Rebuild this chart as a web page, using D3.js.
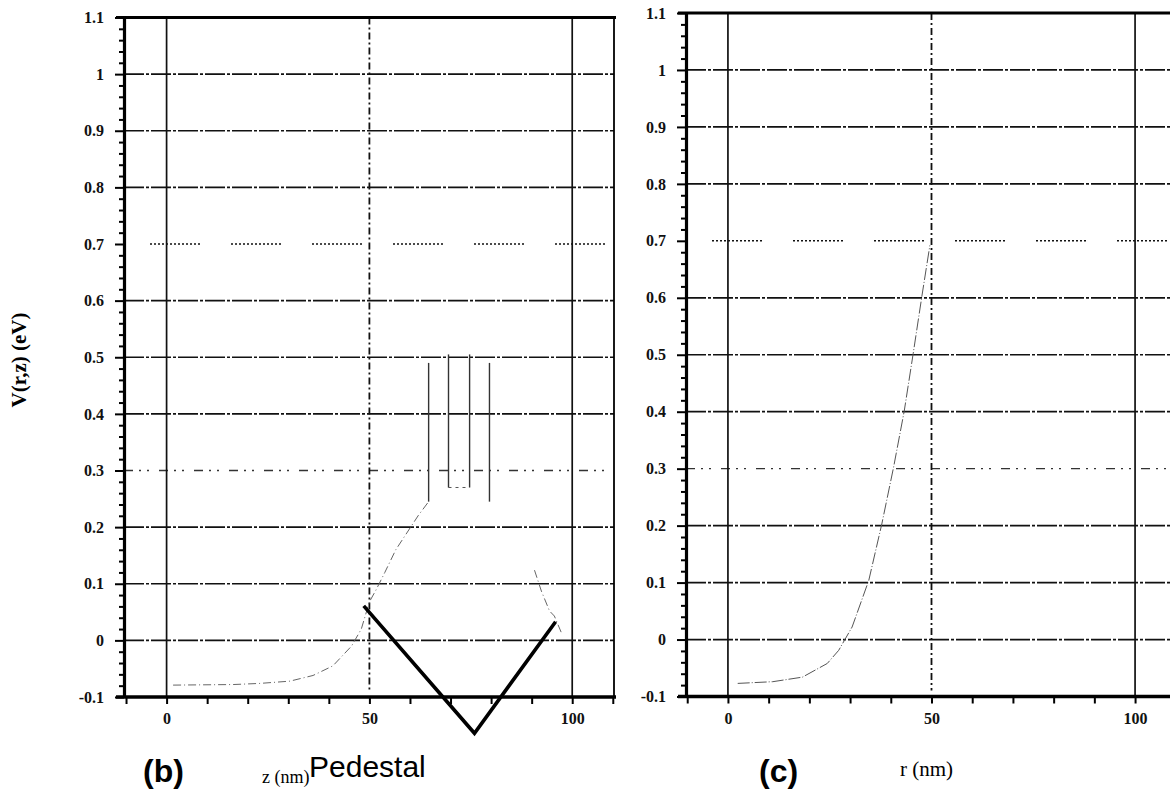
<!DOCTYPE html>
<html>
<head>
<meta charset="utf-8">
<script src="https://cdn.jsdelivr.net/npm/d3@7"></script>
<style>
  body { margin: 0; background: #fff; }
  svg { display: block; }
</style>
</head>
<body>
<svg width="1170" height="791"></svg>
<script>
// valeurs
const yTickValues = [-0.1, 0, 0.1, 0.2, 0.3, 0.4, 0.5, 0.6, 0.7, 0.8, 0.9, 1, 1.1];
const yTickLabels = ["-0.1", "0", "0.1", "0.2", "0.3", "0.4", "0.5", "0.6", "0.7", "0.8", "0.9", "1", "1.1"];
const gridValues = [0, 0.1, 0.2, 0.3, 0.4, 0.5, 0.6, 0.7, 0.8, 0.9, 1];
const xTickValues = [-10, 0, 10, 20, 30, 40, 50, 60, 70, 80, 90, 100, 110];
const xLabelValues = [0, 50, 100];
const xLabelTexts = ["0", "50", "100"];

// (b) V(z) le long de l'axe
const bCurveZ = [1.6, 16.4, 23, 30.4, 36.1, 41, 45.6, 48, 50, 51.7, 53.8, 56.5, 62, 64.6];
const bCurveV = [-0.079, -0.078, -0.076, -0.072, -0.062, -0.045, -0.01, 0.02, 0.068, 0.09, 0.12, 0.16, 0.22, 0.245];
const bSpikeZ = [64.6, 69.5, 74.7, 79.6];
const bSpikeTop = [0.49, 0.505, 0.505, 0.49];
const bSpikeBottom = [0.245, 0.27, 0.27, 0.245];
const bWellZ = [69.5, 74.7];
const bWellV = [0.27, 0.27];
const bRightZ = [90.7, 92.4, 94.4, 95.6, 97.3];
const bRightV = [0.124, 0.087, 0.052, 0.043, 0.014];
const pedestalZ = [48.6, 75.9, 95.9];
const pedestalV = [0.061, -0.164, 0.033];

// (c) V(r)
const cCurveR = [2.4, 11, 18.3, 24.4, 27.2, 30.5, 34.6, 37.8, 40.7, 43.3, 45.5, 47.6, 49.6];
const cCurveV = [-0.077, -0.074, -0.066, -0.042, -0.019, 0.022, 0.104, 0.203, 0.303, 0.401, 0.502, 0.601, 0.692];

const svg = d3.select("svg");
svg.append("rect").attr("width", 1170).attr("height", 791).attr("fill", "#fff");

const serif = "'Liberation Serif', 'DejaVu Serif', serif";
const sans = "'Liberation Sans', Arial, sans-serif";

// motif pointillé de la ligne 0.7
const dotted = d3.range(12).map(() => "2,2").join(",") + ",2,31";

function gridStyle(v) {
    if (Math.abs(v - 0.7) < 1e-6) return {dash: dotted, w: 1.5, c: "#111", off: 55};
    if (Math.abs(v - 0.3) < 1e-6) return {dash: "9,6,2,6,2,10", w: 1.3, c: "#333", off: 0};
    return {dash: "20,2,3,2", w: 1.7, c: "#111", off: 0};
}

function drawPanel(p) {
    const x = d3.scaleLinear().domain(p.xDomain).range(p.xRange);
    const y = d3.scaleLinear().domain([-0.1, 1.1]).range(p.yRange);
    const g = svg.append("g");
    const x0 = p.xRange[0], x1 = p.xRange[1];
    const yTop = y(1.1), yBot = y(-0.1);

    // grilles horizontales
    gridValues.forEach(v => {
        const s = gridStyle(v);
        g.append("line")
            .attr("x1", x0).attr("x2", x1)
            .attr("y1", y(v)).attr("y2", y(v))
            .attr("stroke", s.c).attr("stroke-width", s.w)
            .attr("stroke-dasharray", s.dash)
            .attr("stroke-dashoffset", s.off);
    });

    // grilles verticales
    [0, 50, 100].forEach(v => {
        g.append("line")
            .attr("x1", x(v)).attr("x2", x(v))
            .attr("y1", yTop).attr("y2", v === 50 ? yBot - 6 : yBot)
            .attr("stroke", "#111")
            .attr("stroke-width", v === 50 ? 1.8 : 1.7)
            .attr("stroke-dasharray", v === 50 ? "7,3,2,3" : null);
    });

    // cadre
    g.append("line").attr("x1", x0 - 8).attr("x2", x1 + 2)
        .attr("y1", yTop).attr("y2", yTop)
        .attr("stroke", "#000").attr("stroke-width", 3.2);
    if (p.rightBorder) {
        g.append("line").attr("x1", x1).attr("x2", x1)
            .attr("y1", yTop).attr("y2", yBot)
            .attr("stroke", "#000").attr("stroke-width", 1.8);
    }

    // axe Y
    const yMinor = d3.range(-0.1, 1.1001, 0.02).filter(v => !yTickValues.some(t => Math.abs(t - v) < 1e-6));
    g.append("g")
        .attr("transform", `translate(${x0},0)`)
        .call(d3.axisLeft(y).tickValues(yMinor).tickSize(5).tickFormat(""))
        .call(a => a.select(".domain").remove())
        .call(a => a.selectAll("line").attr("stroke", "#000").attr("stroke-width", 2));
    g.append("g")
        .attr("transform", `translate(${x0},0)`)
        .call(d3.axisLeft(y).tickValues(yTickValues).tickSize(9).tickSizeOuter(0).tickPadding(11)
            .tickFormat((d, i) => yTickLabels[i]))
        .call(a => a.select(".domain").attr("stroke", "#000").attr("stroke-width", 3.2))
        .call(a => a.selectAll("line").attr("stroke", "#000").attr("stroke-width", 2))
        .call(a => a.selectAll("text").attr("font-family", serif).attr("font-weight", "bold")
            .attr("font-size", 16).attr("fill", "#111"));

    // axe X
    g.append("g")
        .attr("transform", `translate(0,${yBot})`)
        .call(d3.axisBottom(x).tickValues(xTickValues).tickSize(7).tickSizeOuter(0).tickPadding(9)
            .tickFormat(d => {
                const i = xLabelValues.indexOf(d);
                return i >= 0 ? xLabelTexts[i] : "";
            }))
        .call(a => a.select(".domain").attr("stroke", "#000").attr("stroke-width", 3.4)
            .attr("d", `M${x0 - 8},0H${x1 + 2}`))
        .call(a => a.selectAll("line").attr("stroke", "#000").attr("stroke-width", 2))
        .call(a => a.selectAll("text").attr("font-family", serif).attr("font-weight", "bold")
            .attr("font-size", 16).attr("fill", "#111"));

    return {x, y, g};
}

const pb = drawPanel({xDomain: [-10.5, 110.3], xRange: [124, 614], yRange: [697, 17.5], rightBorder: true});
const pc = drawPanel({xDomain: [-10.3, 110.3], xRange: [686, 1177], yRange: [696.5, 13], rightBorder: false});

// courbes
function curve(panel, xs, vs, style) {
    const line = d3.line().x(d => panel.x(d[0])).y(d => panel.y(d[1]));
    panel.g.append("path")
        .datum(xs.map((v, i) => [v, vs[i]]))
        .attr("d", line)
        .attr("fill", "none")
        .attr("stroke", style.c)
        .attr("stroke-width", style.w)
        .attr("stroke-dasharray", style.dash);
}

const faint = {c: "#666", w: 1, dash: "8,3,1,3"};
curve(pb, bCurveZ, bCurveV, faint);
curve(pb, bRightZ, bRightV, faint);
curve(pb, bWellZ, bWellV, {c: "#555", w: 1, dash: "3,4"});
bSpikeZ.forEach((z, i) => {
    curve(pb, [z, z], [bSpikeBottom[i], bSpikeTop[i]], {c: "#333", w: 1.4, dash: null});
});
curve(pc, cCurveR, cCurveV, {c: "#555", w: 1, dash: "12,2,1,2"});

// piédestal
curve(pb, pedestalZ, pedestalV, {c: "#000", w: 3.6, dash: null});

// titre axe Y
svg.append("text")
    .attr("transform", "translate(26,360) rotate(-90)")
    .attr("text-anchor", "middle")
    .attr("font-family", serif).attr("font-weight", "bold").attr("font-size", 21)
    .text("V(r,z) (eV)");

// étiquettes du bas
svg.append("text").attr("x", 143).attr("y", 782)
    .attr("font-family", sans).attr("font-weight", "bold").attr("font-size", 32)
    .text("(b)");
svg.append("text").attr("x", 262).attr("y", 783)
    .attr("font-family", serif).attr("font-size", 18)
    .text("z (nm)");
svg.append("text").attr("x", 309).attr("y", 777)
    .attr("font-family", sans).attr("font-size", 30)
    .text("Pedestal");
svg.append("text").attr("x", 759).attr("y", 782)
    .attr("font-family", sans).attr("font-weight", "bold").attr("font-size", 32)
    .text("(c)");
svg.append("text").attr("x", 900).attr("y", 776)
    .attr("font-family", serif).attr("font-size", 21)
    .text("r (nm)");
</script>
</body>
</html>
